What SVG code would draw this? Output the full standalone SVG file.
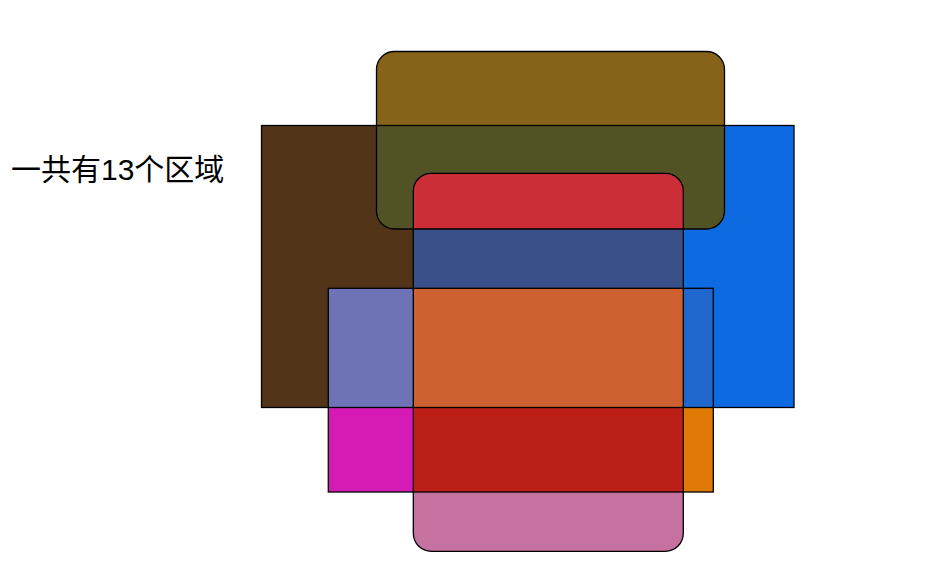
<svg xmlns="http://www.w3.org/2000/svg" width="925" height="577" viewBox="0 0 925 577">
<style>
.o{fill:none;stroke:#000;stroke-width:1.3}
.t{font-family:"Liberation Sans","Noto Sans CJK SC",sans-serif;font-size:30px;fill:#000}
</style>
<rect width="925" height="577" fill="#fff"/>
<g id="fills">
<rect x="261.5" y="125.5" width="532.5" height="282" fill="#523519"/>
<rect x="683.3" y="125.5" width="110.7" height="282" fill="#0e6ae0"/>
<rect x="376.5" y="51.5" width="348" height="177.5" rx="18" ry="18" fill="#876219"/>
<path d="M376.5,125.5 H724.5 V211 A18,18 0 0 1 706.5,229 H394.5 A18,18 0 0 1 376.5,211 Z" fill="#525324"/>
<path d="M413.3,229 V191.3 A18,18 0 0 1 431.3,173.3 H665.3 A18,18 0 0 1 683.3,191.3 V229 Z" fill="#cc2e38"/>
<rect x="413.3" y="229" width="270" height="59.3" fill="#3a5088"/>
<rect x="413.3" y="288.3" width="270" height="119" fill="#ce6131"/>
<rect x="413.3" y="407.3" width="270" height="84.7" fill="#bb1f17"/>
<path d="M413.3,492 H683.3 V533.3 A18,18 0 0 1 665.3,551.3 H431.3 A18,18 0 0 1 413.3,533.3 Z" fill="#c672a0"/>
<rect x="328.3" y="288.3" width="85" height="119" fill="#6e73b8"/>
<rect x="328.3" y="407.3" width="85" height="84.7" fill="#d61ab6"/>
<rect x="683.3" y="288.3" width="30" height="119" fill="#1f67cc"/>
<rect x="683.3" y="407.3" width="30" height="84.7" fill="#e07a06"/>
</g>
<g id="outlines">
<rect class="o" x="261.5" y="125.5" width="532.5" height="282"/>
<rect class="o" x="376.5" y="51.5" width="348" height="177.5" rx="18" ry="18"/>
<rect class="o" x="413.3" y="173.3" width="270" height="378" rx="18" ry="18"/>
<rect class="o" x="328.3" y="288.3" width="385" height="203.7"/>
</g>
<text class="t" x="11" y="180">一共有13个区域</text>
</svg>
